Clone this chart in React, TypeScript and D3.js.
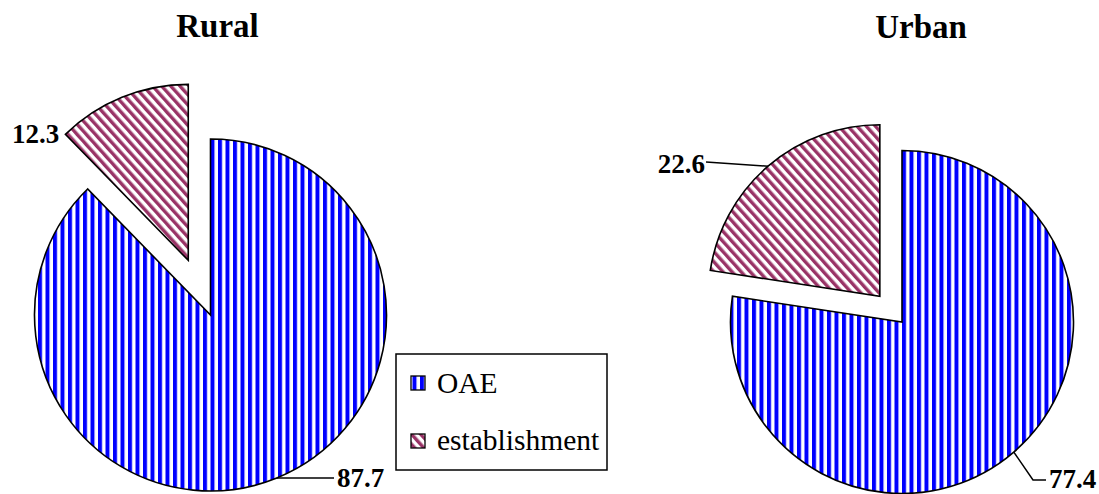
import React from "react";
import * as d3 from "d3";

const categories = ["OAE", "establishment"];
const ruralValues = [87.7, 12.3];
const urbanValues = [77.4, 22.6];
const titles = ["Rural", "Urban"];

const W = 1099;
const H = 494;
const FONT = "'Liberation Serif', 'Times New Roman', serif";

const pies = [
  {
    title: titles[0],
    values: ruralValues,
    cx: 210.5,
    cy: 315,
    r: 176,
    explode: 59,
    titleX: 217.5,
    titleY: 37,
  },
  {
    title: titles[1],
    values: urbanValues,
    cx: 902,
    cy: 322,
    r: 171.5,
    explode: 34,
    titleX: 921,
    titleY: 38,
  },
];

const fills = ["url(#pOAE)", "url(#pEst)"];

export default function App() {
  const pieGen = d3.pie<number>().sort(null).value((d) => d);

  const renderPie = (p: typeof pies[number], pi: number) => {
    const arcs = pieGen(p.values);
    const arcGen = d3.arc<d3.PieArcDatum<number>>().innerRadius(0).outerRadius(p.r);
    const elems: React.ReactNode[] = [];
    arcs.forEach((a, i) => {
      const mid = (a.startAngle + a.endAngle) / 2;
      const off = i === 1 ? p.explode : 0;
      const ox = Math.sin(mid) * off;
      const oy = -Math.cos(mid) * off;
      elems.push(
        <path
          key={`s${pi}-${i}`}
          d={arcGen(a) || ""}
          transform={`translate(${p.cx + ox},${p.cy + oy})`}
          fill={fills[i]}
          stroke="#000"
          strokeWidth={1.6}
          strokeLinejoin="miter"
        />
      );
    });
    return elems;
  };

  const rural = pies[0];
  const urban = pies[1];
  const rArcs = pieGen(rural.values);
  const uArcs = pieGen(urban.values);
  const arcPt = (p: typeof pies[number], a: d3.PieArcDatum<number>, off: number) => {
    const mid = (a.startAngle + a.endAngle) / 2;
    return [
      p.cx + Math.sin(mid) * (p.r + off),
      p.cy - Math.cos(mid) * (p.r + off),
    ];
  };
  const rOAE = arcPt(rural, rArcs[0], 0);
  const uOAE = arcPt(urban, uArcs[0], 0);
  const uMidE = (uArcs[1].startAngle + uArcs[1].endAngle) / 2;
  const uEst = [
    urban.cx + Math.sin(uMidE) * (urban.r + urban.explode),
    urban.cy - Math.cos(uMidE) * (urban.r + urban.explode),
  ];
  const fmt = d3.format(".1f");

  return (
    <svg
      width={W}
      height={H}
      style={{ position: "absolute", left: 0, top: 0, background: "#fff" }}
      fontFamily={FONT}
    >
      <defs>
        <pattern id="pOAE" patternUnits="userSpaceOnUse" width={7.5} height={10}>
          <rect x={0} y={0} width={7.5} height={10} fill="#fff" />
          <rect x={0} y={0} width={4} height={10} fill="#0000ff" />
        </pattern>
        <pattern
          id="pEst"
          patternUnits="userSpaceOnUse"
          width={6.8}
          height={10}
          patternTransform="rotate(-42)"
        >
          <rect x={0} y={0} width={6.8} height={10} fill="#fff" />
          <rect x={0} y={0} width={3.4} height={10} fill="#993366" />
        </pattern>
      </defs>
      <rect x={0} y={0} width={W} height={H} fill="#fff" />

      {pies.map((p, pi) => (
        <g key={`pie${pi}`}>{renderPie(p, pi)}</g>
      ))}

      {pies.map((p, pi) => (
        <text
          key={`t${pi}`}
          x={p.titleX}
          y={p.titleY}
          textAnchor="middle"
          fontWeight="bold"
          fontSize={33}
        >
          {p.title}
        </text>
      ))}

      {/* Rural labels */}
      <text x={12} y={143} fontWeight="bold" fontSize={27}>
        {fmt(rural.values[1])}
      </text>
      <line x1={rOAE[0]} y1={rOAE[1]} x2={334} y2={rOAE[1]} stroke="#000" strokeWidth={1.5} />
      <text x={337} y={487} fontWeight="bold" fontSize={27}>
        {fmt(rural.values[0])}
      </text>

      {/* Urban labels */}
      <line x1={uEst[0]} y1={uEst[1]} x2={706} y2={162} stroke="#000" strokeWidth={1.5} />
      <text x={705} y={173} textAnchor="end" fontWeight="bold" fontSize={27}>
        {fmt(urban.values[1])}
      </text>
      <polyline
        points={`${uOAE[0]},${uOAE[1]} 1033,480 1046,480`}
        fill="none"
        stroke="#000"
        strokeWidth={1.5}
      />
      <text x={1049} y={488} fontWeight="bold" fontSize={27}>
        {fmt(urban.values[0])}
      </text>

      {/* Legend */}
      <rect x={396} y={354} width={211} height={116} fill="#fff" stroke="#000" strokeWidth={1.5} />
      {categories.map((c, i) => (
        <g key={`lg${i}`}>
          <rect
            x={411}
            y={376 + i * 58}
            width={14}
            height={14}
            fill={fills[i]}
            stroke="#000"
            strokeWidth={1.3}
          />
          <text x={437} y={393 + i * 57} fontSize={29.5}>
            {c}
          </text>
        </g>
      ))}
    </svg>
  );
}
